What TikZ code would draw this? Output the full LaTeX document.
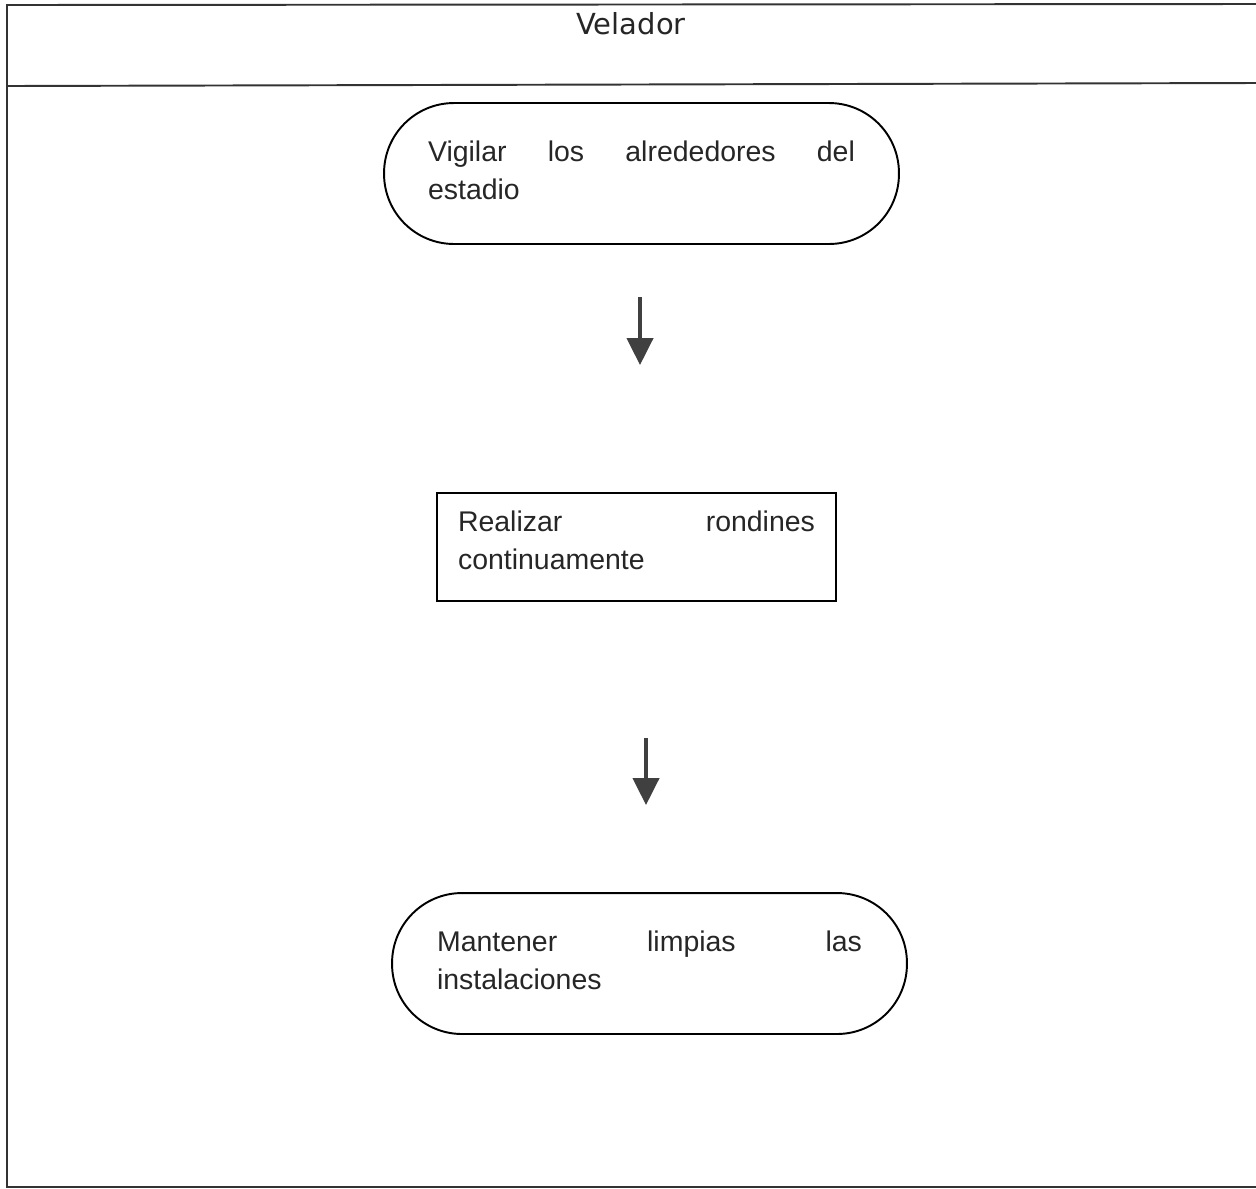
\documentclass[tikz,border=0pt]{standalone}
\usepackage{fontspec}
\setmainfont{Liberation Sans}
\newfontfamily\titlefont{DejaVu Sans}
\usetikzlibrary{arrows.meta}
\newcommand{\fullline}[2]{\hbox to #1{#2}}
\begin{document}
\begin{tikzpicture}[x=0.02cm,y=-0.02cm,
    every node/.style={font=\fontsize{16.2}{21.6}\selectfont,text=black!85},
    frameline/.style={line width=1.1pt,black!80},
    terminal/.style={draw,line width=1.1pt,rounded corners=1.4cm,minimum height=2.82cm,text depth=0.88cm,align=left},
    activity/.style={draw,line width=1.1pt,minimum height=2.16cm,text depth=1.04cm,inner xsep=0.42cm,text width=7.14cm,align=left},
    flow/.style={line width=2.4pt,black!75,-{Triangle[width=0.52cm,length=0.54cm]}}]
  \useasboundingbox (0,0) rectangle (1256,1188);
  % marco del carril
  \draw[frameline] (1256,4) -- (7,5) -- (7,1187) -- (1256,1187);
  \draw[frameline] (7,86) -- (1256,83);
  \node[font=\titlefont\fontsize{16.5}{20}\selectfont] (titulo) at (631,24) {Velador};
  % actividades
  \node[terminal,text width=8.54cm,inner xsep=0.88cm] (vigilar) at (641.5,173.5)
    {\fullline{8.54cm}{Vigilar\hfill los\hfill alrededores\hfill del}\\estadio};
  \node[activity] (rondines) at (636.5,547)
    {\fullline{7.14cm}{Realizar\hfill rondines}\\continuamente};
  \node[terminal,text width=8.5cm,inner xsep=0.9cm] (mantener) at (649.5,963.5)
    {\fullline{8.5cm}{Mantener\hfill limpias\hfill las}\\instalaciones};
  % flechas
  \draw[flow,shorten <=1.04cm,shorten >=2.54cm] (vigilar.south -| 640,0) -- (rondines.north -| 640,0);
  \draw[flow,shorten <=2.72cm,shorten >=1.74cm] (rondines.south -| 646,0) -- (mantener.north -| 646,0);
\end{tikzpicture}
\end{document}
